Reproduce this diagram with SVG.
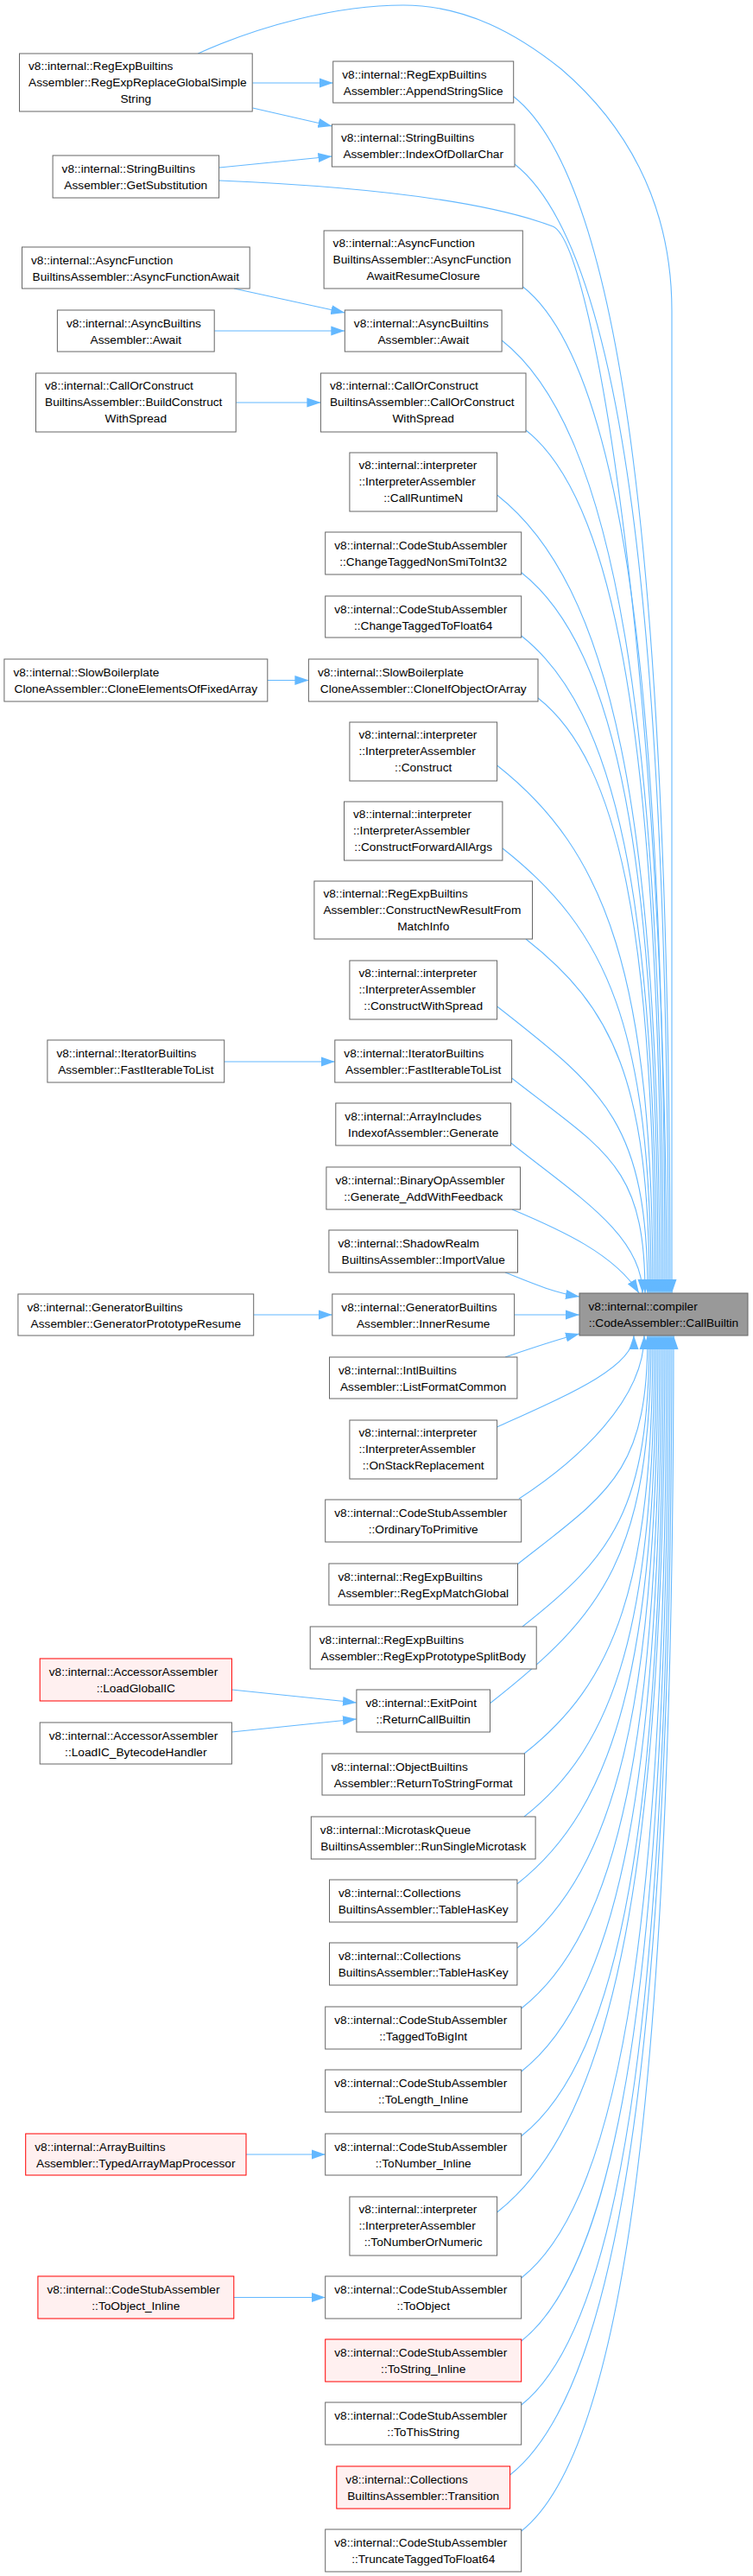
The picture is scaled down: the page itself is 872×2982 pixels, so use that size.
<svg xmlns="http://www.w3.org/2000/svg" width="872" height="2982" viewBox="0 0 872 2982">
<defs>
<style>
.node rect{fill:#ffffff;stroke:#666666;stroke-width:1}
.red rect{fill:#fff0f0;stroke:#ff0000}
.tgt rect{fill:#999999;stroke:#666666}
text{font-family:"Liberation Sans",Arial,sans-serif;font-size:13.7px;fill:#000000}
.s{text-anchor:start}
.m{text-anchor:middle}
.edges path{fill:none;stroke:#63b8ff;stroke-width:1.1;marker-end:url(#ah)}
</style>
<marker id="ah" viewBox="0 0 16 12" refX="16" refY="6" markerWidth="16" markerHeight="12" markerUnits="userSpaceOnUse" orient="auto">
<path d="M0,0.5 L16,6 L0,11.5 z" fill="#63b8ff"/>
</marker>
</defs>
<rect x="0" y="0" width="872" height="2982" fill="#ffffff"/>
<g class="edges">
<path d="M229.3,62 C300,30 390,6 467,6 C540,6 600,40 650,80 C720,140 778,230 778,360 L778,1497"/>
<path d="M594.7,111.7 C721.6,211.4 776,665.8 776,1497"/>
<path d="M596,190 C720.6,287.9 774,712.8 774,1497"/>
<path d="M253.5,209 C420,216 560,232 640,262 C690,282 772,818 772,1497"/>
<path d="M605.3,331.7 C720.6,422.3 770,797.8 770,1497"/>
<path d="M581.1,394 C711.9,496.8 768,835.2 768,1497"/>
<path d="M609,498 C718.9,584.4 766,897.6 766,1497"/>
<path d="M575.6,573 C707.5,676.6 764,942.6 764,1497"/>
<path d="M603.7,662.7 C714.5,749.8 762,996.4 762,1497"/>
<path d="M603.7,736 C713.1,822 760,1040.4 760,1497"/>
<path d="M623,808 C717.5,882.3 758,1083.6 758,1497"/>
<path d="M575.6,886 C701.9,985.2 756,1130.4 756,1497"/>
<path d="M581.9,982 C702.4,1076.7 754,1188 754,1497"/>
<path d="M609,1087 C709.1,1165.7 752,1251 752,1497"/>
<path d="M575.6,1165 C697.7,1260.9 750,1297.8 750,1497"/>
<path d="M592.6,1248 C700.7,1332.9 747,1347.6 747,1497"/>
<path d="M591.6,1323 C667.8,1384 744,1430 744,1497"/>
<path d="M593,1400 C650,1424 712,1452 740,1497"/>
<path d="M585,1473 C615,1485 640,1496 671,1501"/>
<path d="M595.6,1522 L671,1522"/>
<path d="M585,1571 C615,1561 640,1552 671,1544"/>
<path d="M575.6,1652 C655,1616 734,1583 734,1546"/>
<path d="M601,1735 C670,1690 746,1620 746,1546"/>
<path d="M599.4,1810.7 C704.8,1727.9 750,1704.8 750,1546"/>
<path d="M605,1883 C707.9,1802.2 752,1748.2 752,1546"/>
<path d="M567.5,1971.7 C698.1,1869.1 754,1801.4 754,1546"/>
<path d="M607,2030 C711.3,1948 756,1836.4 756,1546"/>
<path d="M607,2103 C712.7,2020 758,1880.2 758,1546"/>
<path d="M599,2180.7 C711.7,2092.1 760,1926.8 760,1546"/>
<path d="M599,2255 C713.1,2165.4 762,1971.4 762,1546"/>
<path d="M603.7,2325 C715.9,2236.8 764,2013.4 764,1546"/>
<path d="M603.7,2398 C717.3,2308.7 766,2057.2 766,1546"/>
<path d="M603.7,2472.7 C718.7,2382.3 768,2102 768,1546"/>
<path d="M575.6,2561 C711.7,2454.1 770,2155 770,1546"/>
<path d="M603.7,2637 C721.5,2544.4 772,2200.6 772,1546"/>
<path d="M603.7,2710 C722.9,2616.3 774,2244.4 774,1546"/>
<path d="M603.7,2784 C724.3,2689.2 776,2288.8 776,1546"/>
<path d="M590.6,2865 C721.8,2761.9 778,2337.4 778,1546"/>
<path d="M603.7,2930 C727.1,2833 780,2376.4 780,1546"/>
<path d="M292.2,96 L385.7,96"/>
<path d="M292.6,125 L384.4,146"/>
<path d="M253.6,194 L384.4,181"/>
<path d="M271,334 L399.3,362"/>
<path d="M248.2,383 L399.3,383"/>
<path d="M273.2,466 L371.4,466"/>
<path d="M309.8,787.5 L357.4,787.5"/>
<path d="M259.7,1229 L387.8,1229"/>
<path d="M293.7,1522 L384.8,1522"/>
<path d="M268.4,1956 L412.9,1971"/>
<path d="M268.4,2005 L412.9,1990"/>
<path d="M285,2494 L376.7,2494"/>
<path d="M270.8,2659.5 L376.7,2659.5"/>
</g>
<g id="n_regexpreplace" class="node"><rect x="22.5" y="62" width="269.7" height="67"/><text class="s" x="33" y="81">v8::internal::RegExpBuiltins</text><text class="s" x="33" y="100">Assembler::RegExpReplaceGlobalSimple</text><text class="m" x="157.3" y="119">String</text></g>
<g id="n_appendstringslice" class="node"><rect x="385.7" y="71" width="209" height="48"/><text class="s" x="396.2" y="90.5">v8::internal::RegExpBuiltins</text><text class="m" x="490.2" y="109.5">Assembler::AppendStringSlice</text></g>
<g id="n_indexofdollarchar" class="node"><rect x="384.4" y="144" width="211.6" height="49"/><text class="s" x="394.9" y="163.5">v8::internal::StringBuiltins</text><text class="m" x="490.2" y="182.5">Assembler::IndexOfDollarChar</text></g>
<g id="n_getsubstitution" class="node"><rect x="61.1" y="180" width="192.5" height="49"/><text class="s" x="71.6" y="199.5">v8::internal::StringBuiltins</text><text class="m" x="157.3" y="218.5">Assembler::GetSubstitution</text></g>
<g id="n_awaitresumeclosure" class="node"><rect x="375.1" y="267" width="230.2" height="67"/><text class="s" x="385.6" y="286">v8::internal::AsyncFunction</text><text class="s" x="385.6" y="305">BuiltinsAssembler::AsyncFunction</text><text class="m" x="490.2" y="324">AwaitResumeClosure</text></g>
<g id="n_asyncfunctionawait" class="node"><rect x="25.5" y="286" width="263.7" height="48"/><text class="s" x="36" y="305.5">v8::internal::AsyncFunction</text><text class="m" x="157.3" y="324.5">BuiltinsAssembler::AsyncFunctionAwait</text></g>
<g id="n_await_caller" class="node"><rect x="66.4" y="359" width="181.8" height="48"/><text class="s" x="76.9" y="378.5">v8::internal::AsyncBuiltins</text><text class="m" x="157.3" y="397.5">Assembler::Await</text></g>
<g id="n_await" class="node"><rect x="399.3" y="359" width="181.8" height="48"/><text class="s" x="409.8" y="378.5">v8::internal::AsyncBuiltins</text><text class="m" x="490.2" y="397.5">Assembler::Await</text></g>
<g id="n_buildconstructwithspread" class="node"><rect x="41.5" y="432" width="231.7" height="68"/><text class="s" x="52" y="451">v8::internal::CallOrConstruct</text><text class="s" x="52" y="470">BuiltinsAssembler::BuildConstruct</text><text class="m" x="157.3" y="489">WithSpread</text></g>
<g id="n_callorconstructwithspread" class="node"><rect x="371.4" y="432" width="237.6" height="68"/><text class="s" x="381.9" y="451">v8::internal::CallOrConstruct</text><text class="s" x="381.9" y="470">BuiltinsAssembler::CallOrConstruct</text><text class="m" x="490.2" y="489">WithSpread</text></g>
<g id="n_callruntimen" class="node"><rect x="404.9" y="524" width="170.7" height="68"/><text class="s" x="415.4" y="543">v8::internal::interpreter</text><text class="s" x="415.4" y="562">::InterpreterAssembler</text><text class="m" x="490.2" y="581">::CallRuntimeN</text></g>
<g id="n_changetaggednonsmitoint32" class="node"><rect x="376.7" y="616" width="227" height="49"/><text class="s" x="387.2" y="635.5">v8::internal::CodeStubAssembler</text><text class="m" x="490.2" y="654.5">::ChangeTaggedNonSmiToInt32</text></g>
<g id="n_changetaggedtofloat64" class="node"><rect x="376.7" y="690" width="227" height="48"/><text class="s" x="387.2" y="709.5">v8::internal::CodeStubAssembler</text><text class="m" x="490.2" y="728.5">::ChangeTaggedToFloat64</text></g>
<g id="n_cloneelementsoffixedarray" class="node"><rect x="4.9" y="763" width="304.9" height="49"/><text class="s" x="15.4" y="782.5">v8::internal::SlowBoilerplate</text><text class="m" x="157.3" y="801.5">CloneAssembler::CloneElementsOfFixedArray</text></g>
<g id="n_cloneifobjectorarray" class="node"><rect x="357.4" y="763" width="265.6" height="49"/><text class="s" x="367.9" y="782.5">v8::internal::SlowBoilerplate</text><text class="m" x="490.2" y="801.5">CloneAssembler::CloneIfObjectOrArray</text></g>
<g id="n_construct" class="node"><rect x="404.9" y="836" width="170.7" height="68"/><text class="s" x="415.4" y="855">v8::internal::interpreter</text><text class="s" x="415.4" y="874">::InterpreterAssembler</text><text class="m" x="490.2" y="893">::Construct</text></g>
<g id="n_constructforwardallargs" class="node"><rect x="398.5" y="928" width="183.4" height="68"/><text class="s" x="409" y="947">v8::internal::interpreter</text><text class="s" x="409" y="966">::InterpreterAssembler</text><text class="m" x="490.2" y="985">::ConstructForwardAllArgs</text></g>
<g id="n_constructnewresultfrommatchinfo" class="node"><rect x="363.9" y="1020" width="252.6" height="67"/><text class="s" x="374.4" y="1039">v8::internal::RegExpBuiltins</text><text class="s" x="374.4" y="1058">Assembler::ConstructNewResultFrom</text><text class="m" x="490.2" y="1077">MatchInfo</text></g>
<g id="n_constructwithspread" class="node"><rect x="404.9" y="1112" width="170.7" height="68"/><text class="s" x="415.4" y="1131">v8::internal::interpreter</text><text class="s" x="415.4" y="1150">::InterpreterAssembler</text><text class="m" x="490.2" y="1169">::ConstructWithSpread</text></g>
<g id="n_fastiterabletolist_caller" class="node"><rect x="54.9" y="1204" width="204.8" height="49"/><text class="s" x="65.4" y="1223.5">v8::internal::IteratorBuiltins</text><text class="m" x="157.3" y="1242.5">Assembler::FastIterableToList</text></g>
<g id="n_fastiterabletolist" class="node"><rect x="387.8" y="1204" width="204.8" height="49"/><text class="s" x="398.3" y="1223.5">v8::internal::IteratorBuiltins</text><text class="m" x="490.2" y="1242.5">Assembler::FastIterableToList</text></g>
<g id="n_arrayincludesgenerate" class="node"><rect x="388.8" y="1277" width="202.8" height="49"/><text class="s" x="399.3" y="1296.5">v8::internal::ArrayIncludes</text><text class="m" x="490.2" y="1315.5">IndexofAssembler::Generate</text></g>
<g id="n_generateaddwithfeedback" class="node"><rect x="377.9" y="1351" width="224.6" height="49"/><text class="s" x="388.4" y="1370.5">v8::internal::BinaryOpAssembler</text><text class="m" x="490.2" y="1389.5">::Generate_AddWithFeedback</text></g>
<g id="n_importvalue" class="node"><rect x="380.9" y="1424" width="218.6" height="49"/><text class="s" x="391.4" y="1443.5">v8::internal::ShadowRealm</text><text class="m" x="490.2" y="1462.5">BuiltinsAssembler::ImportValue</text></g>
<g id="n_generatorprototyperesume" class="node"><rect x="20.9" y="1498" width="272.8" height="48"/><text class="s" x="31.4" y="1517.5">v8::internal::GeneratorBuiltins</text><text class="m" x="157.3" y="1536.5">Assembler::GeneratorPrototypeResume</text></g>
<g id="n_innerresume" class="node"><rect x="384.8" y="1498" width="210.8" height="48"/><text class="s" x="395.3" y="1517.5">v8::internal::GeneratorBuiltins</text><text class="m" x="490.2" y="1536.5">Assembler::InnerResume</text></g>
<g id="n_callbuiltin" class="node tgt"><rect x="671" y="1497" width="195" height="49"/><text class="s" x="681.5" y="1516.5">v8::internal::compiler</text><text class="m" x="768.5" y="1535.5">::CodeAssembler::CallBuiltin</text></g>
<g id="n_listformatcommon" class="node"><rect x="381.5" y="1571" width="217.4" height="48"/><text class="s" x="392" y="1590.5">v8::internal::IntlBuiltins</text><text class="m" x="490.2" y="1609.5">Assembler::ListFormatCommon</text></g>
<g id="n_onstackreplacement" class="node"><rect x="404.9" y="1644" width="170.7" height="68"/><text class="s" x="415.4" y="1663">v8::internal::interpreter</text><text class="s" x="415.4" y="1682">::InterpreterAssembler</text><text class="m" x="490.2" y="1701">::OnStackReplacement</text></g>
<g id="n_ordinarytoprimitive" class="node"><rect x="376.7" y="1736" width="227" height="49"/><text class="s" x="387.2" y="1755.5">v8::internal::CodeStubAssembler</text><text class="m" x="490.2" y="1774.5">::OrdinaryToPrimitive</text></g>
<g id="n_regexpmatchglobal" class="node"><rect x="380.9" y="1810" width="218.6" height="48"/><text class="s" x="391.4" y="1829.5">v8::internal::RegExpBuiltins</text><text class="m" x="490.2" y="1848.5">Assembler::RegExpMatchGlobal</text></g>
<g id="n_regexpprototypesplitbody" class="node"><rect x="359.2" y="1883" width="262" height="49"/><text class="s" x="369.7" y="1902.5">v8::internal::RegExpBuiltins</text><text class="m" x="490.2" y="1921.5">Assembler::RegExpPrototypeSplitBody</text></g>
<g id="n_loadglobalic" class="node red"><rect x="46.2" y="1920" width="222.2" height="49"/><text class="s" x="56.7" y="1939.5">v8::internal::AccessorAssembler</text><text class="m" x="157.3" y="1958.5">::LoadGlobalIC</text></g>
<g id="n_returncallbuiltin" class="node"><rect x="412.9" y="1956" width="154.6" height="49"/><text class="s" x="423.4" y="1975.5">v8::internal::ExitPoint</text><text class="m" x="490.2" y="1994.5">::ReturnCallBuiltin</text></g>
<g id="n_loadicbytecodehandler" class="node"><rect x="46.2" y="1994" width="222.2" height="48"/><text class="s" x="56.7" y="2013.5">v8::internal::AccessorAssembler</text><text class="m" x="157.3" y="2032.5">::LoadIC_BytecodeHandler</text></g>
<g id="n_returntostringformat" class="node"><rect x="373" y="2030" width="234.4" height="48"/><text class="s" x="383.5" y="2049.5">v8::internal::ObjectBuiltins</text><text class="m" x="490.2" y="2068.5">Assembler::ReturnToStringFormat</text></g>
<g id="n_runsinglemicrotask" class="node"><rect x="360.3" y="2103" width="259.8" height="49"/><text class="s" x="370.8" y="2122.5">v8::internal::MicrotaskQueue</text><text class="m" x="490.2" y="2141.5">BuiltinsAssembler::RunSingleMicrotask</text></g>
<g id="n_tablehaskey_1" class="node"><rect x="381.5" y="2176" width="217.4" height="49"/><text class="s" x="392" y="2195.5">v8::internal::Collections</text><text class="m" x="490.2" y="2214.5">BuiltinsAssembler::TableHasKey</text></g>
<g id="n_tablehaskey_2" class="node"><rect x="381.5" y="2249" width="217.4" height="49"/><text class="s" x="392" y="2268.5">v8::internal::Collections</text><text class="m" x="490.2" y="2287.5">BuiltinsAssembler::TableHasKey</text></g>
<g id="n_taggedtobigint" class="node"><rect x="376.7" y="2323" width="227" height="49"/><text class="s" x="387.2" y="2342.5">v8::internal::CodeStubAssembler</text><text class="m" x="490.2" y="2361.5">::TaggedToBigInt</text></g>
<g id="n_tolengthinline" class="node"><rect x="376.7" y="2396" width="227" height="49"/><text class="s" x="387.2" y="2415.5">v8::internal::CodeStubAssembler</text><text class="m" x="490.2" y="2434.5">::ToLength_Inline</text></g>
<g id="n_typedarraymapprocessor" class="node red"><rect x="29.7" y="2470" width="255.3" height="48"/><text class="s" x="40.2" y="2489.5">v8::internal::ArrayBuiltins</text><text class="m" x="157.3" y="2508.5">Assembler::TypedArrayMapProcessor</text></g>
<g id="n_tonumberinline" class="node"><rect x="376.7" y="2470" width="227" height="48"/><text class="s" x="387.2" y="2489.5">v8::internal::CodeStubAssembler</text><text class="m" x="490.2" y="2508.5">::ToNumber_Inline</text></g>
<g id="n_tonumberornumeric" class="node"><rect x="404.9" y="2543" width="170.7" height="68"/><text class="s" x="415.4" y="2562">v8::internal::interpreter</text><text class="s" x="415.4" y="2581">::InterpreterAssembler</text><text class="m" x="490.2" y="2600">::ToNumberOrNumeric</text></g>
<g id="n_toobjectinline" class="node red"><rect x="43.9" y="2635" width="226.9" height="49"/><text class="s" x="54.4" y="2654.5">v8::internal::CodeStubAssembler</text><text class="m" x="157.3" y="2673.5">::ToObject_Inline</text></g>
<g id="n_toobject" class="node"><rect x="376.7" y="2635" width="227" height="49"/><text class="s" x="387.2" y="2654.5">v8::internal::CodeStubAssembler</text><text class="m" x="490.2" y="2673.5">::ToObject</text></g>
<g id="n_tostringinline" class="node red"><rect x="376.7" y="2708" width="227" height="49"/><text class="s" x="387.2" y="2727.5">v8::internal::CodeStubAssembler</text><text class="m" x="490.2" y="2746.5">::ToString_Inline</text></g>
<g id="n_tothisstring" class="node"><rect x="376.7" y="2781" width="227" height="49"/><text class="s" x="387.2" y="2800.5">v8::internal::CodeStubAssembler</text><text class="m" x="490.2" y="2819.5">::ToThisString</text></g>
<g id="n_transition" class="node red"><rect x="389.8" y="2855" width="200.8" height="49"/><text class="s" x="400.3" y="2874.5">v8::internal::Collections</text><text class="m" x="490.2" y="2893.5">BuiltinsAssembler::Transition</text></g>
<g id="n_truncatetaggedtofloat64" class="node"><rect x="376.7" y="2928" width="227" height="49"/><text class="s" x="387.2" y="2947.5">v8::internal::CodeStubAssembler</text><text class="m" x="490.2" y="2966.5">::TruncateTaggedToFloat64</text></g>
</svg>
